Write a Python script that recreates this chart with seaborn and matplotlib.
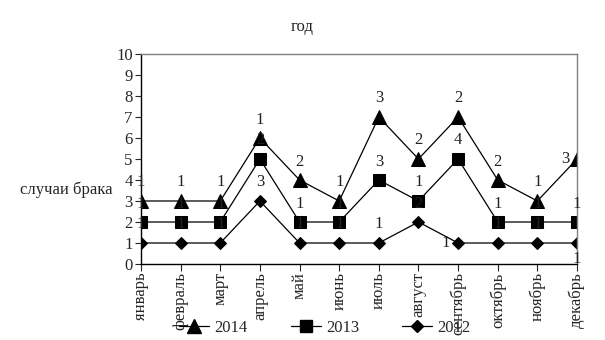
import numpy as np
import pandas as pd
import matplotlib
matplotlib.use("Agg")
import matplotlib.pyplot as plt
import seaborn as sns
from matplotlib.lines import Line2D

months = ["январь", "февраль", "март", "апрель", "май", "июнь", "июль",
          "август", "сентябрь", "октябрь", "ноябрь", "декабрь"]
# stacked series: values
v2012 = [1, 1, 1, 3, 1, 1, 1, 2, 1, 1, 1, 1]
v2013 = [1, 1, 1, 2, 1, 1, 3, 1, 4, 1, 1, 1]
v2014 = [1, 1, 1, 1, 2, 1, 3, 2, 2, 2, 1, 3]
series_names = ["2014", "2013", "2012"]

sns.set_theme(style="white")
plt.rcParams['font.family'] = ['Liberation Serif', 'DejaVu Serif']

c2012 = np.array(v2012)
c2013 = c2012 + np.array(v2013)
c2014 = c2013 + np.array(v2014)

x = np.arange(len(months))
df = pd.concat([
    pd.DataFrame({"x": x, "y": c2014, "s": "2014", "lab": v2014}),
    pd.DataFrame({"x": x, "y": c2013, "s": "2013", "lab": v2013}),
    pd.DataFrame({"x": x, "y": c2012, "s": "2012", "lab": v2012}),
])

fig = plt.figure(figsize=(6.05, 3.4), dpi=100)
ax = fig.add_axes([141/605, 1 - 264/340, (577-141)/605, (264-54)/340])

sns.lineplot(data=df, x="x", y="y", hue="s", style="s",
             hue_order=series_names, style_order=series_names,
             palette=["black"]*3, markers={"2014": "^", "2013": "s", "2012": "D"},
             dashes=False, markersize=9, linewidth=0.9, ax=ax, legend=False,
             markeredgecolor="black")
for line, ms in zip(ax.lines, [10, 9, 6]):
    line.set_markersize(ms)

fs = 12
for _, r in df.iterrows():
    xi, yi, lab, s = r["x"], r["y"], r["lab"], r["s"]
    dx, dy, ha, va = 0, 0.5, "center", "bottom"
    if s == "2012" and xi == 8:
        dx, dy, ha, va = -0.2, 0, "right", "center"
    elif s == "2012" and xi == 11:
        dx, dy, ha, va = 0, -0.4, "center", "top"
    elif s == "2014" and xi == 11:
        dx, dy, ha, va = -0.2, 0, "right", "center"
    ax.text(xi + dx, yi + dy, str(lab), ha=ha, va=va, fontsize=fs, color="#222222")

ax.set_xlim(0, 11)
ax.set_ylim(0, 10)
ax.set_yticks(range(0, 11))
ax.set_xticks(x)
ax.set_xticklabels(months, rotation=90, fontsize=fs)
ax.tick_params(axis="y", labelsize=fs, length=4, width=0.8, direction="out", left=True, pad=2)
ax.tick_params(axis="x", length=5, width=0.8, direction="out", bottom=True, pad=1)
ax.set_xlabel("")
ax.set_ylabel("")
for side in ["top", "right"]:
    ax.spines[side].set_color("#808080")
    ax.spines[side].set_linewidth(1)
for side in ["left", "bottom"]:
    ax.spines[side].set_color("black")
    ax.spines[side].set_linewidth(1)

fig.text(302/605, 1 - 27/340, "год", ha="center", va="center", fontsize=fs)
fig.text(20/605, 1 - 190/340, "случаи брака", ha="left", va="center", fontsize=fs)

handles = [Line2D([], [], color="black", marker=m, markersize=ms, linewidth=0.9)
           for m, ms in zip(["^", "s", "D"], [10, 9, 6])]
fig.legend(handles, series_names, loc="center", bbox_to_anchor=(325/605, 1 - 328/340),
           ncol=3, frameon=False, fontsize=fs, handlelength=1.8, columnspacing=2.6,
           handletextpad=0.3, borderpad=0, borderaxespad=0)

fig.savefig("out.png", dpi=100)
